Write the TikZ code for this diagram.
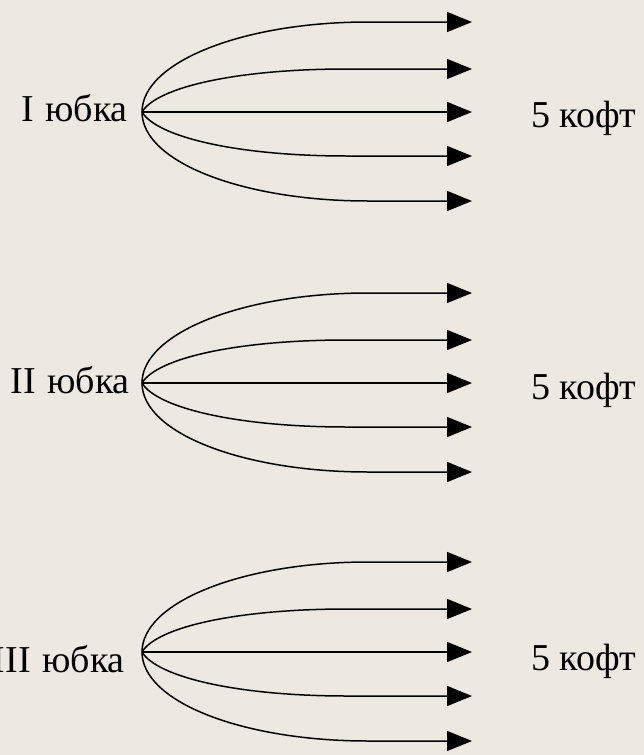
\documentclass[tikz,border=0pt]{standalone}
\usepackage{fontspec}
\setmainfont{Liberation Serif}
\usetikzlibrary{arrows.meta}
\definecolor{paper}{HTML}{EEE8E3}

\begin{document}
\begin{tikzpicture}[x=1pt,y=-1pt,
  fan/.style={line width=1.5pt, -{Triangle[length=25pt,width=20pt]}},
  lbl/.style={inner sep=0pt, font=\fontsize{38}{40}\selectfont}]
  % page background
  \fill[paper] (0,0) rectangle (644,755);
  \useasboundingbox (0,0) rectangle (644,755);

  % one fan of five arrows per skirt
  \foreach \g/\c/\name/\lx/\ly/\ry in {1/112/I/128/121/127,
                                        2/383/II/130/393/399,
                                        3/652/III/125/672/670}{
    \coordinate (o\g) at (142,\c);
    \node[lbl, anchor=base east] (skirt\g) at (\lx,\ly) {\name\hspace{0.3em}юбка};
    \node[lbl, anchor=base west] (tops\g) at (531,\ry) {5 кофт};
    \coordinate (t\g a) at (472,\c-90);
    \coordinate (t\g b) at (472,\c-43);
    \coordinate (t\g c) at (472,\c);
    \coordinate (t\g d) at (472,\c+44);
    \coordinate (t\g e) at (472,\c+89);
    \draw[fan] (o\g) .. controls +(0,-50) and +(-125,0) .. ++(226,-90) -- (t\g a);
    \draw[fan] (o\g) .. controls +(15,-25) and +(-110,0) .. ++(205,-43) -- (t\g b);
    \draw[fan] (o\g) -- (t\g c);
    \draw[fan] (o\g) .. controls +(15,25) and +(-110,0) .. ++(205,44) -- (t\g d);
    \draw[fan] (o\g) .. controls +(0,50) and +(-125,0) .. ++(226,89) -- (t\g e);
  }
\end{tikzpicture}
\end{document}
